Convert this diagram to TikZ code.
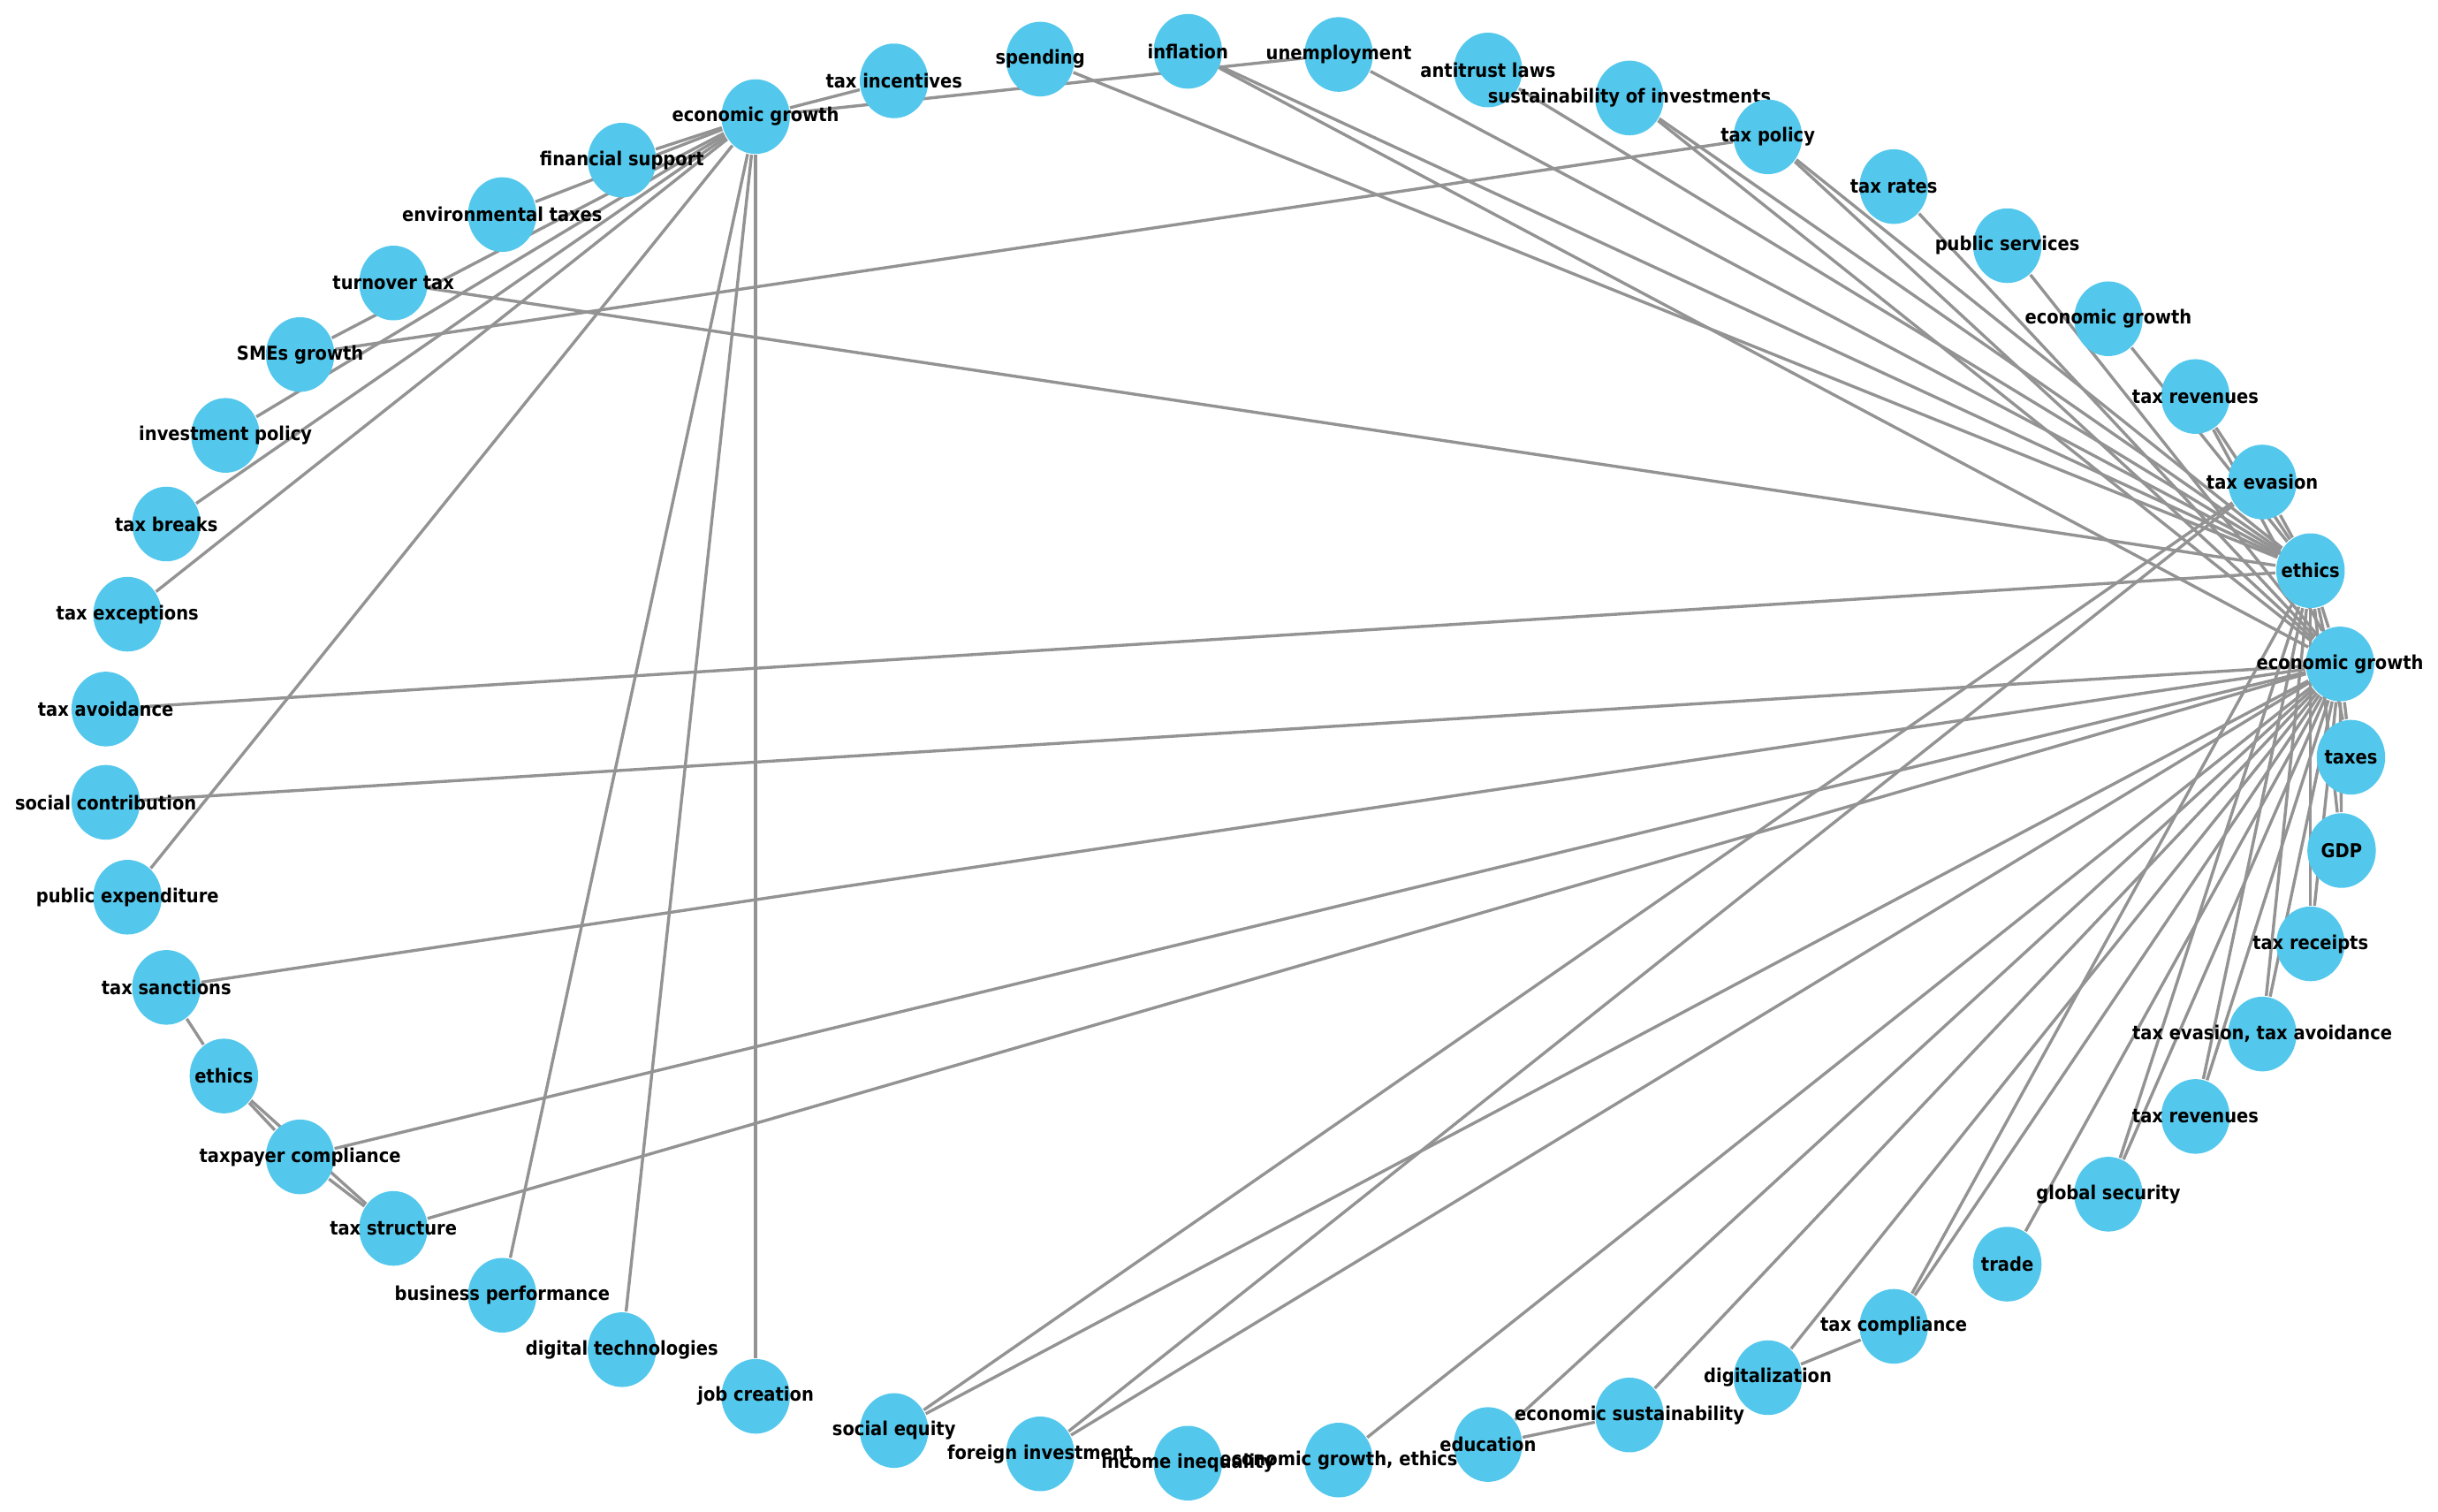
\documentclass[tikz,border=0pt]{standalone}
\usepackage{fontspec}
\setmainfont{DejaVu Sans Condensed}
\usetikzlibrary{shapes.geometric}
\pgfdeclarelayer{bg}
\pgfsetlayers{bg,main}
\definecolor{nodeblue}{RGB}{84,200,236}
\tikzstyle{n}=[ellipse,fill=nodeblue,inner sep=0pt,minimum width=0.44cm,minimum height=0.48cm]
\tikzstyle{lab}=[font=\fontsize{3.5}{4}\selectfont\bfseries]
\tikzstyle{e}=[draw=gray!85,line width=0.55pt]

\begin{document}
\begin{tikzpicture}[x=0.01cm,y=-0.01cm]
                    \useasboundingbox (0,0) rectangle (1568,972);

                    \node (eg1) at (486,75) [n,label={[lab]center:economic growth}] {};
                    \node (incent) at (575,52) [n,label={[lab]center:tax incentives}] {};
                    \node (spend) at (669,38) [n,label={[lab]center:spending}] {};
                    \node (infl) at (764,33) [n,label={[lab]center:inflation}] {};
                    \node (unemp) at (861,35) [n,label={[lab]center:unemployment}] {};
                    \node (anti) at (957,45) [n,label={[lab]center:antitrust laws}] {};
                    \node (sust) at (1048,63) [n,label={[lab]center:sustainability of investments}] {};
                    \node (tpol) at (1137,88) [n,label={[lab]center:tax policy}] {};
                    \node (trate) at (1218,120) [n,label={[lab]center:tax rates}] {};
                    \node (psrv) at (1291,158) [n,label={[lab]center:public services}] {};
                    \node (eg2) at (1356,205) [n,label={[lab]center:economic growth}] {};
                    \node (trev1) at (1412,255) [n,label={[lab]center:tax revenues}] {};
                    \node (tev) at (1455,310) [n,label={[lab]center:tax evasion}] {};
                    \node (eth1) at (1486,367) [n,label={[lab]center:ethics}] {};
                    \node (eg3) at (1505,427) [n,label={[lab]center:economic growth}] {};
                    \node (taxes) at (1512,487) [n,label={[lab]center:taxes}] {};
                    \node (gdp) at (1506,547) [n,label={[lab]center:GDP}] {};
                    \node (trec) at (1486,607) [n,label={[lab]center:tax receipts}] {};
                    \node (teva) at (1455,665) [n,label={[lab]center:tax evasion, tax avoidance}] {};
                    \node (trev2) at (1412,718) [n,label={[lab]center:tax revenues}] {};
                    \node (gsec) at (1356,768) [n,label={[lab]center:global security}] {};
                    \node (trade) at (1291,813) [n,label={[lab]center:trade}] {};
                    \node (tcomp) at (1218,853) [n,label={[lab]center:tax compliance}] {};
                    \node (digi) at (1137,886) [n,label={[lab]center:digitalization}] {};
                    \node (esus) at (1048,910) [n,label={[lab]center:economic sustainability}] {};
                    \node (edu) at (957,929) [n,label={[lab]center:education}] {};
                    \node (egeth) at (861,939) [n,label={[lab]center:economic growth, ethics}] {};
                    \node (ineq) at (764,941) [n,label={[lab]center:income inequality}] {};
                    \node (finv) at (669,935) [n,label={[lab]center:foreign investment}] {};
                    \node (seq) at (575,920) [n,label={[lab]center:social equity}] {};
                    \node (job) at (486,898) [n,label={[lab]center:job creation}] {};
                    \node (dtech) at (400,868) [n,label={[lab]center:digital technologies}] {};
                    \node (bperf) at (323,833) [n,label={[lab]center:business performance}] {};
                    \node (tstr) at (253,790) [n,label={[lab]center:tax structure}] {};
                    \node (tpc) at (193,744) [n,label={[lab]center:taxpayer compliance}] {};
                    \node (eth2) at (144,692) [n,label={[lab]center:ethics}] {};
                    \node (tsan) at (107,635) [n,label={[lab]center:tax sanctions}] {};
                    \node (pexp) at (82,577) [n,label={[lab]center:public expenditure}] {};
                    \node (scon) at (68,516) [n,label={[lab]center:social contribution}] {};
                    \node (tavo) at (68,456) [n,label={[lab]center:tax avoidance}] {};
                    \node (texc) at (82,395) [n,label={[lab]center:tax exceptions}] {};
                    \node (tbrk) at (107,337) [n,label={[lab]center:tax breaks}] {};
                    \node (ipol) at (145,280) [n,label={[lab]center:investment policy}] {};
                    \node (smes) at (193,228) [n,label={[lab]center:SMEs growth}] {};
                    \node (turn) at (253,182) [n,label={[lab]center:turnover tax}] {};
                    \node (envt) at (323,138) [n,label={[lab]center:environmental taxes}] {};
                    \node (fsup) at (400,103) [n,label={[lab]center:financial support}] {};

                    \begin{pgfonlayer}{bg}
                    % top hub
                    \foreach \t in {incent,unemp,fsup,envt,smes,ipol,tbrk,texc,pexp,bperf,dtech,job}
                        \draw [e] (eg1) -- (\t);
                    % ethics hub
                    \foreach \t in {spend,infl,unemp,anti,sust,tpol,eg2,trev1,tev,turn,tavo,eg3,taxes,gdp,trec,teva,trev2,gsec,tcomp}
                        \draw [e] (eth1) -- (\t);
                    % right hub
                    \foreach \t in {infl,sust,tpol,trate,psrv,trev1,taxes,gdp,trec,teva,trev2,gsec,trade,tcomp,digi,esus,edu,egeth,finv,seq,scon,tsan,tpc,tstr}
                        \draw [e] (eg3) -- (\t);
                    \draw [e] (tpol) -- (smes);
                    \draw [e] (tev) -- (seq);
                    \draw [e] (tev) -- (finv);
                    \draw [e] (tsan) -- (eth2);
                    \draw [e] (eth2) -- (tpc);
                    \draw [e] (eth2) -- (tstr);
                    \draw [e] (tpc) -- (tstr);
                    \draw [e] (edu) -- (esus);
                    \draw [e] (tcomp) -- (digi);
                    \end{pgfonlayer}
                \end{tikzpicture}
\end{document}
